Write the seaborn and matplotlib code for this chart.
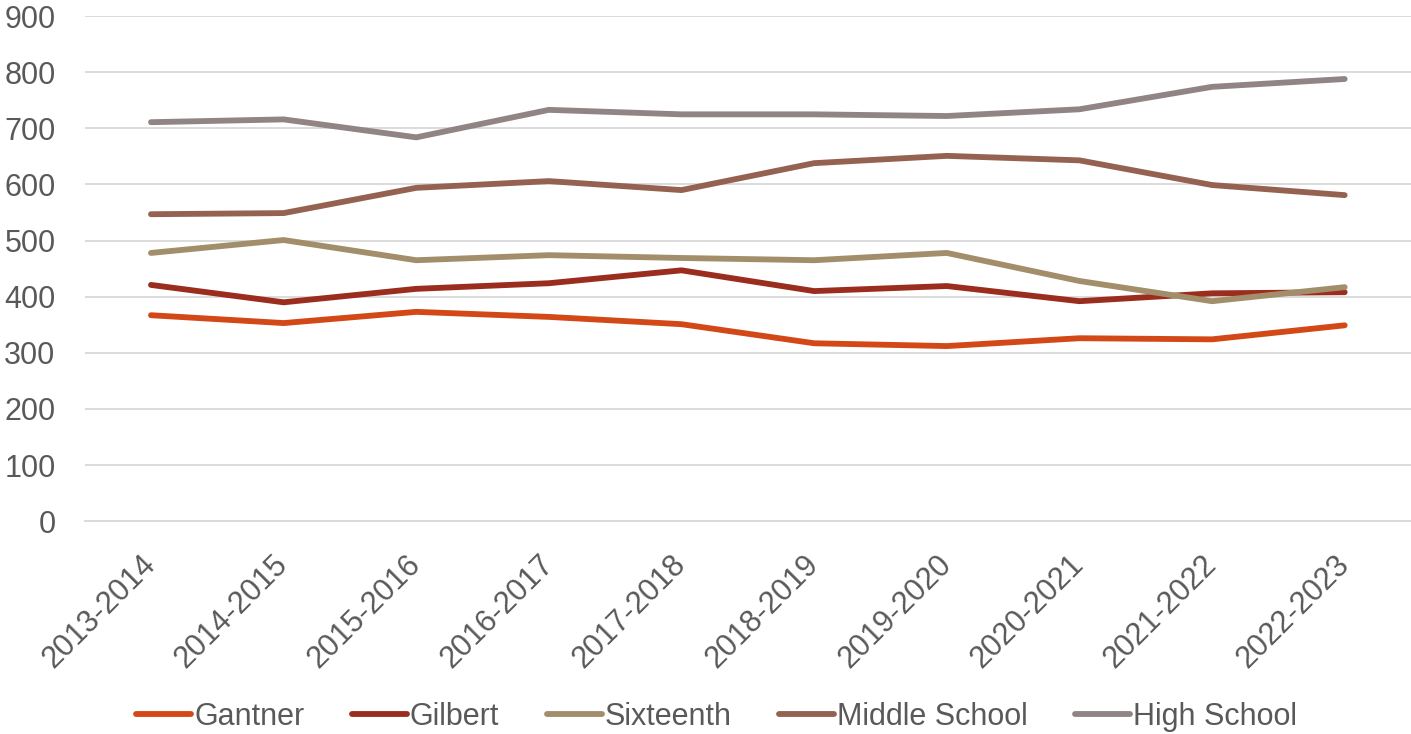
#!/usr/bin/env python3
"""Enrollment by school, 2013-2023."""

import matplotlib
matplotlib.use("Agg")
import matplotlib.pyplot as plt
import pandas as pd
import seaborn as sns

years = ["2013-2014", "2014-2015", "2015-2016", "2016-2017", "2017-2018",
         "2018-2019", "2019-2020", "2020-2021", "2021-2022", "2022-2023"]
gantner = [367, 353, 373, 364, 351, 317, 312, 326, 324, 349]
gilbert = [421, 390, 414, 424, 447, 410, 419, 392, 406, 408]
sixteenth = [478, 501, 465, 474, 469, 465, 478, 428, 392, 417]
middle_school = [547, 549, 594, 606, 590, 638, 651, 643, 599, 581]
high_school = [711, 716, 684, 733, 725, 725, 722, 734, 774, 788]

series = {
    "Gantner": gantner,
    "Gilbert": gilbert,
    "Sixteenth": sixteenth,
    "Middle School": middle_school,
    "High School": high_school,
}
colors = ["#D34817", "#9B2D1F", "#A28E6A", "#956251", "#918485"]


def main() -> int:
    sns.set_theme(style="white")
    plt.rcParams["font.family"] = ["Liberation Sans", "DejaVu Sans"]

    rows = []
    for name, values in series.items():
        for i, (year, v) in enumerate(zip(years, values)):
            rows.append({"pos": i, "year": year, "school": name, "value": v})
    df = pd.DataFrame(rows)

    fig = plt.figure(figsize=(14.11, 7.34), dpi=100)
    ax = fig.add_axes([0.06, 0.29, 0.94, 0.688])
    sns.lineplot(data=df, x="pos", y="value", hue="school", palette=colors,
                 linewidth=4.2, ax=ax, solid_capstyle="round")

    ax.set_xlim(-0.5, len(years) - 0.5)
    ax.set_ylim(0, 900)
    ax.set_yticks(range(0, 901, 100))
    ax.set_xticks(range(len(years)))
    ax.set_xticklabels(years, rotation=45, ha="right", va="center",
                       rotation_mode="anchor")
    ax.tick_params(axis="both", labelsize=22, labelcolor="#595959", length=0)
    ax.tick_params(axis="x", pad=28)
    ax.tick_params(axis="y", pad=21)
    ax.yaxis.grid(True, color="#D9D9D9", linewidth=1.3)
    ax.set_axisbelow(True)
    for side in ["top", "right", "left"]:
        ax.spines[side].set_visible(False)
    ax.spines["bottom"].set_color("#D9D9D9")
    ax.spines["bottom"].set_linewidth(1.3)
    ax.set_xlabel("")
    ax.set_ylabel("")

    handles, labels = ax.get_legend_handles_labels()
    ax.legend_.remove()
    fig.legend(handles, labels, loc="center", bbox_to_anchor=(0.508, 0.023),
               ncol=5, frameon=False, fontsize=22, labelcolor="#595959",
               handlelength=1.8, handletextpad=0.1, columnspacing=1.55)

    fig.savefig("out.png", dpi=100)
    plt.close(fig)
    return 0


if __name__ == "__main__":
    raise SystemExit(main())
